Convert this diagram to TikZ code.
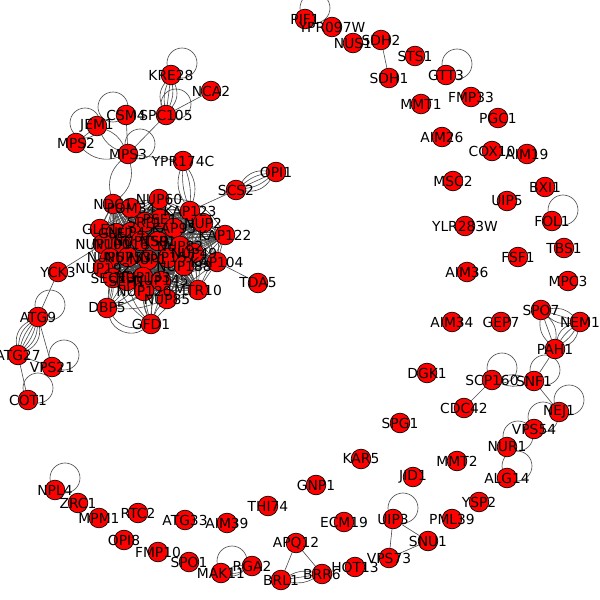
\documentclass[tikz,border=0pt]{standalone}
\usepackage{fontspec}
\setmainfont{DejaVu Sans}
\usetikzlibrary{backgrounds}
\def\vlist{pif1/305/19/PIF1, ypr097w/332/27/YPR097W, nus1/353/43/NUS1, sdh2/381/40/SDH2,
  sts1/415/56/STS1, sdh1/389/78/SDH1, gtt3/446/75/GTT3, mmt1/421/104/MMT1,
  fmp33/471/97/FMP33, pgc1/498/118/PGC1, aim26/442/137/AIM26, cox10/492/151/COX10,
  aim19/527/154/AIM19, msc2/453/181/MSC2, bxi1/545/187/BXI1, uip5/507/201/UIP5,
  fol1/552/221/FOL1, ylr283w/465/226/YLR283W, tbs1/564/248/TBS1, fsf1/518/257/FSF1,
  aim36/467/272/AIM36, mpc3/568/281/MPC3, spo7/541/310/SPO7, nem1/580/322/NEM1,
  aim34/452/322/AIM34, gep7/501/322/GEP7, pah1/555/349/PAH1, dgk1/427/373/DGK1,
  scp160/492/380/SCP160, snf1/534/381/SNF1, cdc42/464/408/CDC42, nej1/559/412/NEJ1,
  spg1/400/423/SPG1, vps54/534/429/VPS54, nur1/507/447/NUR1, mmt2/457/461/MMT2,
  jid1/413/477/JID1, alg14/507/478/ALG14, ysp2/479/502/YSP2, uip3/393/519/UIP3,
  pml39/452/519/PML39, kar5/361/459/KAR5, gnp1/316/485/GNP1, thi74/268/506/THI74,
  aim39/227/523/AIM39, ecm19/344/522/ECM19, apq12/296/543/APQ12, snu1/428/541/SNU1,
  vps73/389/558/VPS73, hot13/355/567/HOT13, rga2/252/566/RGA2, mak11/221/573/MAK11,
  brl1/281/580/BRL1, brr6/322/574/BRR6, npl4/55/490/NPL4, zrc1/78/503/ZRC1,
  mpm1/99/518/MPM1, rtc2/138/513/RTC2, atg33/185/520/ATG33, opi8/124/540/OPI8,
  fmp10/158/552/FMP10, spo1/189/562/SPO1, yck3/58/272/YCK3, atg9/38/317/ATG9,
  atg27/18/355/ATG27, vps21/52/367/VPS21, cot1/28/400/COT1, dbp5/107/308/DBP5,
  gfd1/151/324/GFD1, kre28/171/75/KRE28, nca2/211/91/NCA2, csm4/126/115/CSM4,
  spc105/166/115/SPC105, jem1/97/126/JEM1, mps2/76/143/MPS2, mps3/128/154/MPS3,
  ypr174c/183/161/YPR174C, opi1/276/172/OPI1, scs2/236/190/SCS2, tda5/258/283/TDA5}
% nuclear pore cluster
\def\cvlist{nup60/159/199/NUP60, ndc1/113/204/NDC1, pom34/131/208/POM34,
  kap123/190/211/KAP123, pse1/160/219/PSE1, srp1/145/222/SRP1, kap95/174/228/KAP95,
  nup2/203/223/NUP2, kap122/225/235/KAP122, gle1/100/229/GLE1, gle2/116/233/GLE2,
  nup42/131/232/NUP42, nup100/103/244/NUP100, nup116/121/244/NUP116,
  nup159/141/241/NUP159, nsp1/158/241/NSP1, nup82/180/246/NUP82, nup49/194/253/NUP49,
  kap104/217/262/KAP104, nup57/110/258/NUP57, nup53/128/257/NUP53, nup1/148/260/NUP1,
  nup157/168/258/NUP157, nup188/184/266/NUP188, nup192/103/268/NUP192,
  sec13/113/278/SEC13, seh1/127/281/SEH1, nup133/143/277/NUP133,
  nup145/161/281/NUP145, mtr10/198/290/MTR10, nup120/144/291/NUP120, nup85/167/299/NUP85}
\def\clist{nup60,ndc1,pom34,kap123,pse1,srp1,kap95,nup2,kap122,gle1,gle2,nup42,
  nup100,nup116,nup159,nsp1,nup82,nup49,kap104,nup57,nup53,nup1,nup157,nup188,
  nup192,sec13,seh1,nup133,nup145,mtr10,nup120,nup85}
\begin{document}
\begin{tikzpicture}[x=0.0254cm, y=-0.0254cm,
    vert/.style={circle,draw=black,fill=red,line width=0.5pt,minimum size=0.5cm,inner sep=0pt},
    lab/.style={inner sep=0pt,font=\fontsize{10}{12}\selectfont,text=black},
    edge/.style={draw=black!70,line width=0.45pt}]
\useasboundingbox (0,0) rectangle (600,600);
\foreach \n/\x/\y/\t in \vlist {\node[vert] (\n) at (\x,\y) {};}
\foreach \n/\x/\y/\t in \cvlist {\node[vert] (\n) at (\x,\y) {};}
\begin{pgfonlayer}{background}
% cluster
\foreach \a [count=\i] in \clist {
  \foreach \b [count=\j] in \clist {
    \ifnum\j>\i \draw[edge] (\a) -- (\b); \fi
  }
}
\draw[edge] (kap123) to[bend left=35] (kap104);
\draw[edge] (nup60) to[bend left=30] (kap122);
\draw[edge] (gle1) to[bend right=35] (nup192);
\draw[edge] (ndc1) to[bend right=30] (sec13);
\foreach \c in {nup192,sec13,seh1,nup133,nup145,nup120,nup85,nup57,nup100,nup53}
  \draw[edge] (dbp5) to[bend right=12] (\c);
\foreach \c in {sec13,seh1,nup133,nup145,nup120,nup85,nup1,nup157,mtr10,nup188}
  \draw[edge] (gfd1) to[bend left=12] (\c);
\draw[edge] (dbp5) to[bend right=35] (gfd1);
\draw[edge] (dbp5) to[bend right=55] (gfd1);
\draw[edge] (kap104) -- (tda5);
\draw[edge] (scs2) -- (kap123);
\draw[edge] (yck3) -- (nup100);
\foreach \b in {-25,-10,10,25} \draw[edge] (ypr174c) to[bend left=\b] (kap123);
\foreach \b in {-30,30} \draw[edge] (mps3) to[bend left=\b] (ndc1);
% top left group
\foreach \b in {-30,-15,0,15,30} \draw[edge] (kre28) to[bend left=\b] (spc105);
\draw[edge] (spc105) -- (nca2);
\draw[edge] (spc105) -- (mps3);
\draw[edge] (csm4) -- (mps3);
\draw[edge] (mps3) -- (ypr174c);
\foreach \b in {-20,20} \draw[edge] (jem1) to[bend left=\b] (mps3);
\draw[edge] (mps2) to[bend right=30] (mps3);
\draw[edge] (mps2) -- (jem1);
\foreach \b in {-30,-15,0,15,30} \draw[edge] (scs2) to[bend left=\b] (opi1);
% left group
\draw[edge] (yck3) -- (atg9);
\foreach \b in {-36,-24,-12,0,12,24,36} \draw[edge] (atg9) to[bend left=\b] (atg27);
\draw[edge] (atg9) -- (vps21);
\draw[edge] (atg27) -- (vps21);
\draw[edge] (atg27) -- (cot1);
% right side
\draw[edge] (sdh2) -- (sdh1);
\foreach \b in {-25,0,25} \draw[edge] (spo7) to[bend left=\b] (nem1);
\foreach \b in {-25,0,25} \draw[edge] (spo7) to[bend left=\b] (pah1);
\foreach \b in {-30,-10,10,30} \draw[edge] (nem1) to[bend left=\b] (pah1);
\draw[edge] (pah1) -- (snf1);
\foreach \b in {-20,20} \draw[edge] (scp160) to[bend left=\b] (snf1);
\draw[edge] (scp160) -- (cdc42);
\draw[edge] (snf1) -- (nej1);
% bottom
\draw[edge] (uip3) -- (vps73);
\draw[edge] (uip3) -- (snu1);
\draw[edge] (vps73) -- (snu1);
\draw[edge] (apq12) -- (brl1);
\draw[edge] (apq12) -- (brr6);
\foreach \b in {-20,0,20} \draw[edge] (brl1) to[bend left=\b] (brr6);
\foreach \b in {-15,15} \draw[edge] (mak11) to[bend left=\b] (rga2);
% self loops
\foreach \n/\dx/\dy in {pif1/10/-11, gtt3/11/-11, fol1/11/-11, kre28/11/-12,
    spc105/10/-11, csm4/-13/-8, jem1/-12/-3, mps3/12/-10, atg9/12/-12, vps21/12/-12,
    cot1/10/-12, npl4/10/-12, mak11/11/-12, uip3/10/-11, scp160/10/-12, snf1/11/-11,
    nej1/10/-12, vps54/9/-12, nur1/11/-11, alg14/10/-12}
  \draw[edge] (\n.center) ++(\dx,\dy) circle[radius=0.381cm];
\end{pgfonlayer}
\foreach \n/\x/\y/\t in \cvlist {\node[lab] (\n-t) at (\n) {\t};}
\foreach \n/\x/\y/\t in \vlist {\node[lab] (\n-t) at (\n) {\t};}
\end{tikzpicture}
\end{document}
